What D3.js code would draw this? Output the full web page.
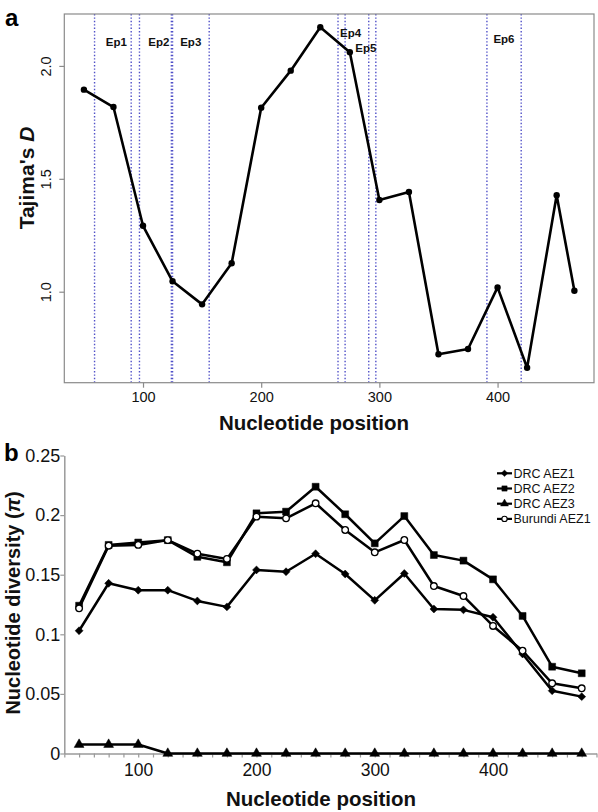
<!DOCTYPE html>
<html>
<head>
<meta charset="utf-8">
<script src="https://cdn.jsdelivr.net/npm/d3@7"></script>
<style>
  body { margin: 0; background: #fff; }
  svg { display: block; font-family: "Liberation Sans", Arial, sans-serif; }
</style>
</head>
<body>
<svg id="chart" width="598" height="812"></svg>
<script>
// ---------- Panel a data ----------
const positionsA = [50, 75, 100, 125, 150, 175, 200, 225, 250, 275, 300, 325, 350, 375, 400, 425, 450, 465];
const tajimaD = [1.895, 1.818, 1.292, 1.046, 0.944, 1.126, 1.815, 1.979, 2.171, 2.061, 1.406, 1.442, 0.723, 0.746, 1.019, 0.663, 1.427, 1.004];
const epitopeBounds = [59, 90, 97, 124, 125, 156, 265, 271, 291, 297, 391, 420];
const epitopeLabels = ["Ep1", "Ep2", "Ep3", "Ep4", "Ep5", "Ep6"];
const epitopeLabelX = [77.4, 113.4, 140.4, 275.7, 288.6, 405.4];
const epitopeLabelY = [2.107, 2.107, 2.107, 2.145, 2.078, 2.118];
const xTicksA = [100, 200, 300, 400];
const yTicksA = [1.0, 1.5, 2.0];

// ---------- Panel b data ----------
const positionsB = [50, 75, 100, 125, 150, 175, 200, 225, 250, 275, 300, 325, 350, 375, 400, 425, 450, 475];
const drcAEZ1 = [0.103, 0.1428, 0.137, 0.137, 0.128, 0.123, 0.154, 0.1525, 0.1676, 0.1506, 0.1285, 0.151, 0.1212, 0.1205, 0.1143, 0.0835, 0.0527, 0.0477];
const drcAEZ2 = [0.124, 0.175, 0.177, 0.179, 0.165, 0.1604, 0.2015, 0.2029, 0.2238, 0.2007, 0.1763, 0.1992, 0.1665, 0.1618, 0.1461, 0.1154, 0.0728, 0.0673];
const drcAEZ3 = [0.0075, 0.0075, 0.0075, 0, 0, 0, 0, 0, 0, 0, 0, 0, 0, 0, 0, 0, 0, 0];
const burundiAEZ1 = [0.1218, 0.1743, 0.175, 0.179, 0.1676, 0.1632, 0.1987, 0.1973, 0.2099, 0.1875, 0.1688, 0.1791, 0.1405, 0.1321, 0.107, 0.0862, 0.0589, 0.0547];
const seriesNames = ["DRC AEZ1", "DRC AEZ2", "DRC AEZ3", "Burundi AEZ1"];
const xTicksB = [100, 200, 300, 400];
const yTicksB = [0, 0.05, 0.1, 0.15, 0.2, 0.25];

const svg = d3.select("#chart");

// ================= Panel a =================
const xA = d3.scaleLinear().domain([33.4, 481.6]).range([64.3, 594]);
const yA = d3.scaleLinear().domain([0.597, 2.230]).range([382.7, 14]);
const gA = svg.append("g");

// epitope dotted lines
gA.selectAll("line.ep").data(epitopeBounds).join("line")
  .attr("class", "ep")
  .attr("x1", d => xA(d)).attr("x2", d => xA(d))
  .attr("y1", yA.range()[1]).attr("y2", yA.range()[0])
  .attr("stroke", "#5050c8").attr("stroke-width", 1.4)
  .attr("stroke-dasharray", "1.4,2");

// box
gA.append("rect")
  .attr("x", xA.range()[0]).attr("y", yA.range()[1])
  .attr("width", xA.range()[1] - xA.range()[0])
  .attr("height", yA.range()[0] - yA.range()[1])
  .attr("fill", "none").attr("stroke", "#8a8a8a").attr("stroke-width", 1.2);

// x axis a
const axA = gA.append("g").attr("transform", `translate(0,${yA.range()[0]})`)
  .call(d3.axisBottom(xA).tickValues(xTicksA).tickSize(5).tickSizeOuter(0).tickFormat(d3.format("d")));
axA.select(".domain").remove();
axA.selectAll(".tick line").attr("stroke", "#8a8a8a").attr("stroke-width", 1.2);
axA.selectAll(".tick text").attr("font-size", 14.5).attr("fill", "#111").attr("font-family", "Liberation Sans, Arial, sans-serif").attr("y", 9);

// y axis a
const ayA = gA.append("g").attr("transform", `translate(${xA.range()[0]},0)`)
  .call(d3.axisLeft(yA).tickValues(yTicksA).tickSize(5).tickSizeOuter(0).tickFormat(d3.format(".1f")));
ayA.select(".domain").remove();
ayA.selectAll(".tick line").attr("stroke", "#8a8a8a").attr("stroke-width", 1.2);
ayA.selectAll(".tick text")
  .attr("x", null).attr("dy", null)
  .attr("transform", "translate(-13.6,0) rotate(-90)")
  .attr("text-anchor", "middle")
  .attr("font-size", 14.5).attr("fill", "#111").attr("font-family", "Liberation Sans, Arial, sans-serif");

// Tajima's D line
gA.append("path")
  .datum(positionsA.map((p, i) => [p, tajimaD[i]]))
  .attr("fill", "none").attr("stroke", "#000").attr("stroke-width", 2.6)
  .attr("stroke-linejoin", "round")
  .attr("d", d3.line().x(d => xA(d[0])).y(d => yA(d[1])));
gA.selectAll("circle.pt").data(positionsA.map((p, i) => [p, tajimaD[i]])).join("circle")
  .attr("class", "pt")
  .attr("cx", d => xA(d[0])).attr("cy", d => yA(d[1])).attr("r", 3.2).attr("fill", "#000");

// epitope labels
gA.selectAll("text.eplab").data(epitopeLabels).join("text")
  .attr("class", "eplab")
  .attr("x", (d, i) => xA(epitopeLabelX[i]))
  .attr("y", (d, i) => yA(epitopeLabelY[i]))
  .attr("dy", "0.35em")
  .attr("text-anchor", "middle")
  .attr("font-size", 11.5).attr("font-weight", "bold").attr("fill", "#111")
  .text(d => d);

// labels a
svg.append("text").attr("x", 5).attr("y", 26).attr("font-size", 24).attr("font-weight", "bold").text("a");
const tl = svg.append("text")
  .attr("transform", "translate(34,178) rotate(-90)")
  .attr("text-anchor", "middle")
  .attr("font-size", 21).attr("font-weight", "bold").attr("fill", "#111");
tl.append("tspan").text("Tajima's ");
tl.append("tspan").attr("font-style", "italic").text("D");
svg.append("text").attr("x", 314).attr("y", 430).attr("text-anchor", "middle")
  .attr("font-size", 20.5).attr("font-weight", "bold").attr("fill", "#111")
  .text("Nucleotide position");

// ================= Panel b =================
const xB = d3.scaleLinear().domain([37.5, 487.5]).range([64.3, 596.5]);
const yB = d3.scaleLinear().domain([0, 0.25]).range([753.5, 455.5]);
const gB = svg.append("g");

// y axis b
const ayB = gB.append("g").attr("transform", `translate(${xB.range()[0]},0)`)
  .call(d3.axisLeft(yB).tickValues(yTicksB).tickSize(4).tickSizeOuter(0).tickFormat(d => d === 0 ? "0" : String(d)));
ayB.select(".domain").attr("stroke", "#9a9a9a").attr("stroke-width", 1.5);
ayB.selectAll(".tick line").attr("stroke", "#9a9a9a").attr("stroke-width", 1.2);
ayB.selectAll(".tick text").attr("x", -4).attr("font-size", 18).attr("fill", "#111")
  .attr("font-family", "Liberation Sans, Arial, sans-serif");

// x axis b
const minorB = d3.range(37.5, 487.6, 12.5);
const axB = gB.append("g").attr("transform", `translate(0,${yB(0)})`)
  .call(d3.axisBottom(xB).tickValues(minorB).tickSize(4).tickSizeOuter(0)
    .tickFormat(d => xTicksB.includes(d) ? d : ""));
axB.select(".domain").attr("stroke", "#9a9a9a").attr("stroke-width", 1.5);
axB.selectAll(".tick line").attr("stroke", "#9a9a9a").attr("stroke-width", 1.2);
axB.selectAll(".tick text").attr("y", 10).attr("font-size", 17.5).attr("fill", "#111")
  .attr("font-family", "Liberation Sans, Arial, sans-serif");

const lineB = d3.line().x(d => xB(d[0])).y(d => yB(d[1]));
const allSeries = [drcAEZ1, drcAEZ2, drcAEZ3, burundiAEZ1];
const symbols = [
  d3.symbol().type(d3.symbolDiamond2).size(40),
  d3.symbol().type(d3.symbolSquare).size(48),
  d3.symbol().type(d3.symbolTriangle).size(42),
  d3.symbol().type(d3.symbolCircle).size(34)
];
const fills = ["#000", "#000", "#000", "#fff"];

allSeries.forEach((s, k) => {
  const pts = positionsB.map((p, i) => [p, s[i]]);
  gB.append("path").datum(pts)
    .attr("fill", "none").attr("stroke", "#000").attr("stroke-width", 2.5)
    .attr("stroke-linejoin", "round")
    .attr("d", lineB);
  gB.append("g").selectAll("path").data(pts).join("path")
    .attr("transform", d => `translate(${xB(d[0])},${yB(d[1])})`)
    .attr("d", symbols[k])
    .attr("fill", fills[k]).attr("stroke", "#000").attr("stroke-width", k === 3 ? 1.3 : 0.5);
});

// legend
const lg = gB.append("g");
seriesNames.forEach((name, k) => {
  const yy = 473.3 + k * 15.2;
  lg.append("line").attr("x1", 497).attr("x2", 512).attr("y1", yy).attr("y2", yy)
    .attr("stroke", "#000").attr("stroke-width", 2.2);
  lg.append("path").attr("transform", `translate(504.5,${yy})`)
    .attr("d", d3.symbol().type([d3.symbolDiamond2, d3.symbolSquare, d3.symbolTriangle, d3.symbolCircle][k]).size(k === 3 ? 22 : 28))
    .attr("fill", fills[k]).attr("stroke", "#000").attr("stroke-width", k === 3 ? 1.1 : 0.4);
  lg.append("text").attr("x", 513.5).attr("y", yy).attr("dy", "0.36em")
    .attr("font-size", 12.5).attr("fill", "#111").text(name);
});

// labels b
svg.append("text").attr("x", 4).attr("y", 461).attr("font-size", 24).attr("font-weight", "bold").text("b");
const nl = svg.append("text")
  .attr("transform", "translate(19.5,603) rotate(-90)")
  .attr("text-anchor", "middle")
  .attr("font-size", 20).attr("font-weight", "bold").attr("fill", "#111");
nl.append("tspan").text("Nucleotide diversity (");
nl.append("tspan").attr("font-style", "italic").text("π");
nl.append("tspan").text(")");
svg.append("text").attr("x", 321).attr("y", 806).attr("text-anchor", "middle")
  .attr("font-size", 20.5).attr("font-weight", "bold").attr("fill", "#111")
  .text("Nucleotide position");
</script>
</body>
</html>
